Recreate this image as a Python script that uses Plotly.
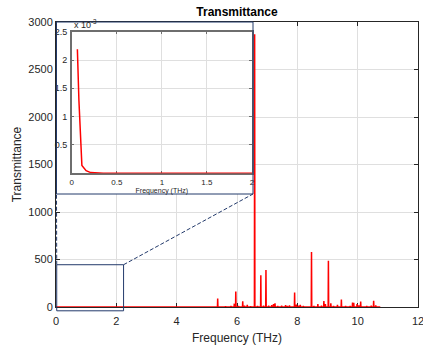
import plotly.graph_objects as go

# ---------------- data ----------------
# low-frequency part (shown in the inset), transmittance in units of 1e-3
low_freq = [0.063, 0.08, 0.113, 0.16, 0.21, 0.26, 0.35, 0.5, 0.75, 1.0, 1.25, 1.5, 1.75, 2.0]
low_trans_e3 = [2.19, 1.29, 0.14, 0.045, 0.012, 0.004, 0.002, 0.001, 0.0008, 0.0006, 0.0005, 0.0004, 0.0003, 0.0003]

# spectral peaks (THz, transmittance)
peak_freq = [5.36, 5.62, 5.80, 5.91, 5.96, 6.05, 6.19, 6.25, 6.34, 6.45, 6.585, 6.68, 6.79, 6.88,
             6.96, 7.05, 7.15, 7.21, 7.26, 7.35, 7.48, 7.61, 7.67, 7.74, 7.91, 7.97, 8.05, 8.10,
             8.20, 8.47, 8.55, 8.68, 8.80, 8.88, 8.93, 9.03, 9.11, 9.20, 9.33, 9.46, 9.60, 9.75,
             9.83, 9.87, 9.98, 10.04, 10.10, 10.30, 10.45, 10.53, 10.60, 10.70]
peak_trans = [90, 8, 10, 35, 164, 10, 59, 15, 22, 8, 2870, 12, 333, 15,
              389, 15, 20, 30, 38, 10, 15, 20, 12, 18, 152, 25, 15, 22,
              10, 580, 12, 32, 15, 62, 30, 487, 38, 12, 22, 78, 10, 12,
              48, 45, 30, 18, 58, 10, 15, 66, 18, 5]
end_freq = 10.75

x_ticks = [0, 2, 4, 6, 8, 10, 12]
y_ticks = [0, 500, 1000, 1500, 2000, 2500, 3000]
inset_x_ticks = [0, 0.5, 1, 1.5, 2]
inset_y_ticks = [0.5, 1, 1.5, 2, 2.5]

# zoom window drawn on the main axes (data coordinates)
zoom_x = [0, 2.24]
zoom_y = [-40, 445]

# ---------------- build main series ----------------
hw = 0.008
main_x = [0.0] + list(low_freq)
main_y = [0.0] + [v * 1e-3 for v in low_trans_e3]
for f, t in zip(peak_freq, peak_trans):
    main_x += [f - hw, f, f + hw]
    main_y += [0, t, 0]
main_x.append(end_freq)
main_y.append(0)

RED = "#ff0000"
TXT = "#262626"
GRID = "#dfdfdf"
NAVY = "#233a6b"
FONT = "Liberation Sans, Arial, sans-serif"

W, H = 423, 345
ML, MR, MT, MB = 56, 5, 22, 38
PW, PH = W - ML - MR, H - MT - MB


def px2paper_x(px):
    return (px - ML) / PW


def px2paper_y(py):
    return (H - MB - py) / PH


XR = [0, 12]
YR = [0, 3000]


def d2p_x(v):
    return (v - XR[0]) / (XR[1] - XR[0])


def d2p_y(v):
    return (v - YR[0]) / (YR[1] - YR[0])


fig = go.Figure()

fig.add_trace(go.Scatter(x=main_x, y=main_y, mode="lines",
                         line=dict(color=RED, width=1.5), xaxis="x", yaxis="y",
                         showlegend=False, hoverinfo="skip"))

# white panel behind the inset (subplot drawn over main axes)
fig.add_trace(go.Scatter(x=[0, 1, 1, 0, 0], y=[0, 0, 1, 1, 0], mode="lines", fill="toself",
                         fillcolor="white", line=dict(width=0), xaxis="x2", yaxis="y2",
                         showlegend=False, hoverinfo="skip"))

fig.add_trace(go.Scatter(x=low_freq, y=low_trans_e3, mode="lines",
                         line=dict(color=RED, width=1.5), xaxis="x3", yaxis="y3",
                         showlegend=False, hoverinfo="skip"))

frame_x0, frame_x1 = px2paper_x(56.5), px2paper_x(253)
frame_y0, frame_y1 = px2paper_y(194), px2paper_y(22)

axis_common = dict(showline=True, linecolor=TXT, linewidth=1, mirror="ticks",
                   ticks="inside", ticklen=4, tickcolor=TXT, showgrid=True,
                   gridcolor=GRID, gridwidth=1, zeroline=False, automargin=False,
                   ticklabeloverflow="allow",
                   tickfont=dict(family=FONT, size=11, color=TXT), layer="below traces")

inset_common = dict(showline=True, linecolor="#6e6e6e", linewidth=1.5, mirror="ticks",
                    ticks="inside", ticklen=3, tickcolor="#6e6e6e", showgrid=True, gridcolor=GRID,
                    zeroline=False, automargin=False, layer="below traces",
                    ticklabeloverflow="allow")

fig.update_layout(
    width=W, height=H,
    margin=dict(l=ML, r=MR, t=MT, b=MB, autoexpand=False),
    paper_bgcolor="white", plot_bgcolor="white",
    font=dict(family=FONT, color=TXT),
    title=dict(text="<b>Transmittance</b>", x=(ML + 237 - 56) / W, xanchor="center",
               y=1 - 12 / H, yanchor="middle", font=dict(size=12, color="black", family=FONT)),
    xaxis=dict(domain=[0, 1], range=XR, tickvals=x_ticks, ticklabelstandoff=4,
               title=dict(text="Frequency (THz)", font=dict(size=12, family=FONT, color=TXT), standoff=7),
               **axis_common),
    yaxis=dict(domain=[0, 1], range=YR, tickvals=y_ticks,
               title=dict(text="Transmittance", font=dict(size=12, family=FONT, color=TXT), standoff=4),
               **axis_common),
    xaxis2=dict(domain=[frame_x0, frame_x1], range=[0, 1], visible=False, anchor="y2"),
    yaxis2=dict(domain=[frame_y0, frame_y1], range=[0, 1], visible=False, anchor="x2"),
    xaxis3=dict(domain=[px2paper_x(71.7), px2paper_x(252)], range=[0, 2], tickvals=inset_x_ticks,
                ticktext=["0", "0.5", "1", "1.5", "2"], anchor="y3",
                tickfont=dict(family=FONT, size=8, color=TXT),
                title=dict(text="Frequency (THz)", font=dict(size=7, family=FONT, color=TXT), standoff=2),
                **inset_common),
    yaxis3=dict(domain=[px2paper_y(173.3), px2paper_y(31.7)], range=[0, 2.5], tickvals=inset_y_ticks,
                ticktext=["0.5", "1", "1.5", "2", "2.5"], anchor="x3", ticklabelstandoff=1,
                tickfont=dict(family=FONT, size=9, color=TXT),
                **inset_common),
)

shapes = []
shapes.append(dict(type="rect", xref="paper", yref="paper", x0=frame_x0, x1=frame_x1,
                   y0=frame_y0, y1=frame_y1, line=dict(color=NAVY, width=1), layer="above"))
shapes.append(dict(type="rect", xref="paper", yref="paper",
                   x0=d2p_x(zoom_x[0]) + 0.002, x1=d2p_x(zoom_x[1]),
                   y0=d2p_y(zoom_y[0]), y1=d2p_y(zoom_y[1]),
                   line=dict(color=NAVY, width=1), layer="above"))
shapes.append(dict(type="line", xref="paper", yref="paper",
                   x0=d2p_x(zoom_x[0]) + 0.002, y0=d2p_y(zoom_y[1]), x1=frame_x0, y1=frame_y0,
                   line=dict(color=NAVY, width=1, dash="4px,2px"), layer="above"))
shapes.append(dict(type="line", xref="paper", yref="paper",
                   x0=d2p_x(zoom_x[1]), y0=d2p_y(zoom_y[1]), x1=frame_x1, y1=frame_y0,
                   line=dict(color=NAVY, width=1, dash="4px,2px"), layer="above"))
fig.update_layout(shapes=shapes)

fig.add_annotation(text="x 10<sup>-3</sup>", xref="paper", yref="paper",
                   x=px2paper_x(72), y=px2paper_y(31.5), xanchor="left", yanchor="bottom",
                   showarrow=False, font=dict(size=9, family=FONT, color=TXT))

fig.write_html("out.html", config={"displayModeBar": False},
               post_script="document.body.style.margin='0';document.body.style.overflow='hidden';")
